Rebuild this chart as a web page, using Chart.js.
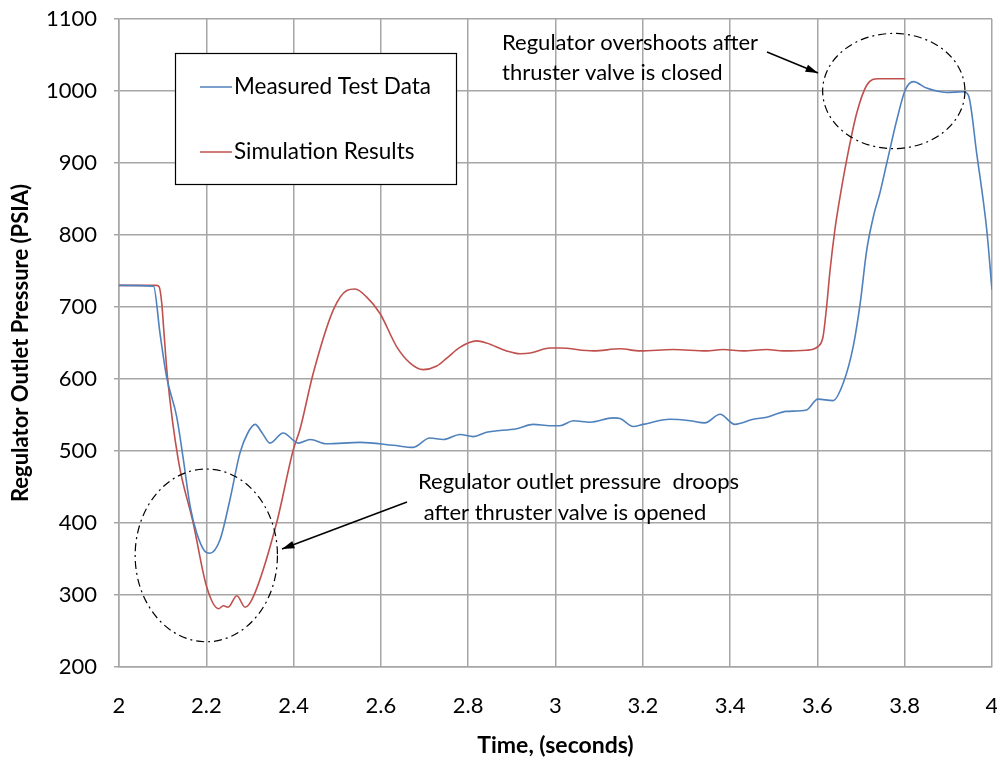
<!DOCTYPE html>
<html lang="en">
  <head>
    <meta charset="utf-8">
    <script src="https://cdn.jsdelivr.net/npm/chart.js@4.4.1/dist/chart.umd.min.js"></script>
    <title>Regulator Outlet Pressure</title>
    <style>
      body { margin:0; background:white; }
    </style>
  </head>
  <body>
    <canvas id="myChart" width="997" height="761"></canvas>
    <script>
      // values
      var measuredTime = [2.0, 2.079, 2.094, 2.109, 2.132, 2.147, 2.163, 2.178, 2.195, 2.208, 2.231, 2.254, 2.277, 2.295, 2.312, 2.328, 2.346, 2.376, 2.411, 2.438, 2.476, 2.552, 2.628, 2.674, 2.712, 2.743, 2.781, 2.812, 2.842, 2.911, 2.949, 2.987, 3.010, 3.041, 3.079, 3.132, 3.148, 3.178, 3.201, 3.262, 3.308, 3.342, 3.377, 3.411, 3.453, 3.484, 3.529, 3.575, 3.601, 3.636, 3.659, 3.682, 3.698, 3.713, 3.730, 3.743, 3.759, 3.782, 3.801, 3.820, 3.850, 3.896, 3.934, 3.946, 3.965, 3.988, 4.0];
      var measuredPressure = [730, 729, 663, 603, 548, 490, 423, 386, 362, 358, 376, 432, 497, 525, 537, 525, 511, 525, 511, 516, 510, 512, 508, 505, 518, 516, 523, 520, 526, 531, 537, 535, 535, 542, 540, 546, 545, 534, 537, 544, 542, 539, 551, 537, 544, 547, 555, 557, 572, 570, 594, 645, 705, 779, 830, 858, 900, 960, 1001, 1013, 1004, 998, 999, 994, 913, 807, 724];

      var simTime = [2.0, 2.086, 2.092, 2.098, 2.102, 2.111, 2.136, 2.170, 2.201, 2.228, 2.239, 2.250, 2.270, 2.289, 2.308, 2.361, 2.399, 2.415, 2.445, 2.491, 2.522, 2.541, 2.567, 2.598, 2.636, 2.667, 2.697, 2.728, 2.751, 2.781, 2.819, 2.842, 2.888, 2.919, 2.942, 2.987, 3.010, 3.087, 3.148, 3.194, 3.270, 3.346, 3.384, 3.430, 3.484, 3.522, 3.575, 3.601, 3.613, 3.621, 3.629, 3.640, 3.648, 3.667, 3.690, 3.713, 3.740, 3.801];
      var simPressure = [730, 730, 728, 705, 673, 603, 487, 400, 311, 281, 285, 283, 299, 283, 298, 400, 501, 531, 608, 696, 723, 725, 714, 691, 645, 622, 613, 618, 629, 644, 653, 650, 639, 635, 636, 643, 643, 639, 642, 639, 641, 639, 641, 639, 641, 639, 640, 645, 659, 700, 751, 807, 839, 904, 969, 1008, 1017, 1017];

      var xTickLabels = ['2', '2.2', '2.4', '2.6', '2.8', '3', '3.2', '3.4', '3.6', '3.8', '4'];
      var yTickLabels = ['200', '300', '400', '500', '600', '700', '800', '900', '1000', '1100'];

      var seriesNames = ['Measured Test Data', 'Simulation Results'];
      var seriesColors = ['#4f81bd', '#c0504d'];

      var noteTop = ['Regulator overshoots after', 'thruster valve is closed'];
      var noteBottom = ['Regulator outlet pressure  droops', ' after thruster valve is opened'];

      function toPoints(xs, ys) {
        var pts = [];
        for (var i = 0; i < xs.length; i++) pts.push({x: xs[i], y: ys[i]});
        return pts;
      }

      var font = 'Lato';

      function arrow(ctx, x1, y1, x2, y2) {
        ctx.beginPath();
        ctx.moveTo(x1, y1);
        ctx.lineTo(x2, y2);
        ctx.stroke();
        var a = Math.atan2(y2 - y1, x2 - x1);
        ctx.beginPath();
        ctx.moveTo(x2, y2);
        ctx.lineTo(x2 - 13 * Math.cos(a - 0.3), y2 - 13 * Math.sin(a - 0.3));
        ctx.lineTo(x2 - 13 * Math.cos(a + 0.3), y2 - 13 * Math.sin(a + 0.3));
        ctx.closePath();
        ctx.fill();
      }

      // legend box, dash-dot circles, arrows and notes
      var extras = {
        id: 'extras',
        afterDraw: function(chart) {
          var ctx = chart.ctx;
          var xs = chart.scales.x, ys = chart.scales.y;
          ctx.save();

          // legend
          ctx.fillStyle = 'white';
          ctx.fillRect(175.5, 53.5, 281, 131);
          ctx.strokeStyle = '#000';
          ctx.lineWidth = 1.2;
          ctx.strokeRect(175.5, 53.5, 281, 131);
          ctx.font = '22.5px ' + font;
          ctx.textBaseline = 'middle';
          var rows = [87, 152];
          for (var i = 0; i < 2; i++) {
            ctx.strokeStyle = seriesColors[i];
            ctx.lineWidth = 1.5;
            ctx.beginPath();
            ctx.moveTo(200, rows[i]);
            ctx.lineTo(232, rows[i]);
            ctx.stroke();
            ctx.fillStyle = '#000';
            ctx.fillText(chart.data.datasets[i].label, 234, rows[i]);
          }

          // ellipses in data units
          ctx.strokeStyle = '#000';
          ctx.lineWidth = 1.2;
          ctx.setLineDash([8, 4, 2, 4]);
          var ells = [[2.2, 355, 0.163, 120], [3.775, 1000, 0.163, 80]];
          ells.forEach(function(e) {
            var cx = xs.getPixelForValue(e[0]), cy = ys.getPixelForValue(e[1]);
            var rx = xs.getPixelForValue(e[0] + e[2]) - cx;
            var ry = cy - ys.getPixelForValue(e[1] + e[3]);
            ctx.beginPath();
            ctx.ellipse(cx, cy, rx, ry, 0, 0, Math.PI * 2);
            ctx.stroke();
          });
          ctx.setLineDash([]);

          ctx.fillStyle = '#000';
          ctx.lineWidth = 1.5;
          arrow(ctx, 767, 52, 818, 73);
          arrow(ctx, 407, 502, 282, 549);

          ctx.font = '22px ' + font;
          ctx.textBaseline = 'middle';
          ctx.fillText(noteTop[0], 502, 43);
          ctx.fillText(noteTop[1], 502, 73);
          ctx.fillText(noteBottom[0], 418, 482);
          ctx.fillText(noteBottom[1], 418, 513);
          ctx.restore();
        }
      };

      var myChart = document.getElementById('myChart').getContext('2d');
      var chart = new Chart(myChart, {
        type: 'line',
        data: {
          datasets: [
            {
              label: seriesNames[0],
              data: toPoints(measuredTime, measuredPressure),
              borderColor: seriesColors[0],
              borderWidth: 1.6,
              pointRadius: 0,
              cubicInterpolationMode: 'monotone'
            },
            {
              label: seriesNames[1],
              data: toPoints(simTime, simPressure),
              borderColor: seriesColors[1],
              borderWidth: 1.6,
              pointRadius: 0,
              cubicInterpolationMode: 'monotone'
            }
          ]
        },
        options: {
          responsive: false,
          animation: false,
          layout: { padding: { top: 19, right: 5, left: 0, bottom: 0 } },
          plugins: { legend: { display: false }, tooltip: { enabled: false } },
          scales: {
            x: {
              type: 'linear',
              min: 2, max: 4,
              afterBuildTicks: function(s) {
                s.ticks = xTickLabels.map(function(t) { return {value: parseFloat(t)}; });
              },
              afterFit: function(s) {
                s.height = 94;
                s.paddingLeft = 0; s.paddingRight = 0;
              },
              ticks: {
                callback: function(v, i) { return xTickLabels[i]; },
                color: '#000',
                font: { family: font, size: 22 },
                padding: 26,
                maxRotation: 0
              },
              grid: { color: '#a6a6a6', lineWidth: 1.5, drawTicks: false },
              border: { color: '#a6a6a6', width: 1.5 },
              title: {
                display: true,
                text: 'Time, (seconds)',
                color: '#000',
                font: { family: font, size: 23, weight: 'bold' },
                padding: { top: 2, bottom: 2 }
              }
            },
            y: {
              min: 200, max: 1100,
              afterBuildTicks: function(s) {
                s.ticks = yTickLabels.map(function(t) { return {value: parseFloat(t)}; });
              },
              afterFit: function(s) {
                s.width = 119;
                s.paddingTop = 0; s.paddingBottom = 0;
              },
              ticks: {
                callback: function(v, i) { return yTickLabels[i]; },
                color: '#000',
                font: { family: font, size: 22 },
                padding: 17
              },
              grid: { color: '#a6a6a6', lineWidth: 1.5, tickLength: 5 },
              border: { color: '#a6a6a6', width: 1.5 },
              title: {
                display: true,
                text: 'Regulator Outlet Pressure (PSIA)',
                color: '#000',
                font: { family: font, size: 22, weight: 'bold' },
                padding: { top: 8, bottom: 8 }
              }
            }
          }
        },
        plugins: [extras]
      });
    </script>
  </body>
</html>
